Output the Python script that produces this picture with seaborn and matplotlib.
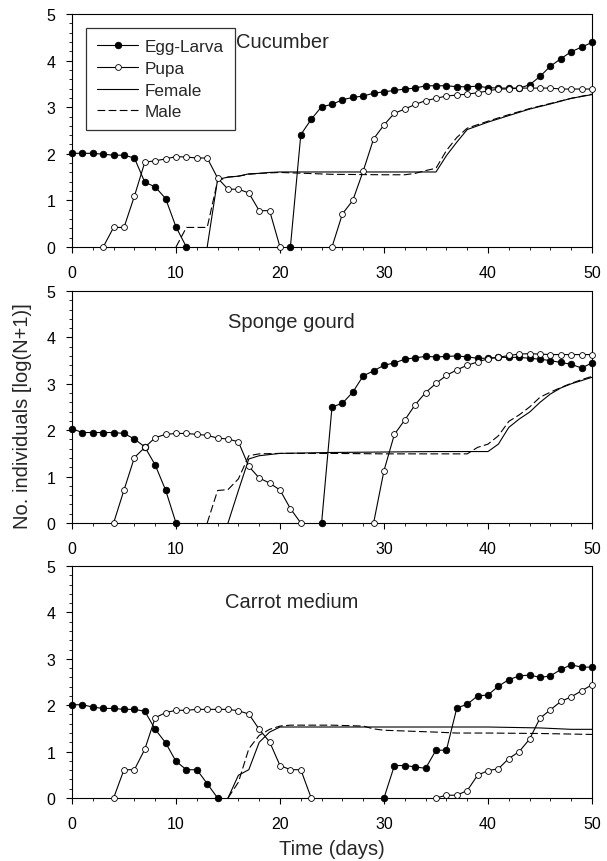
import numpy as np
import pandas as pd
import seaborn as sns
import matplotlib.pyplot as plt
from matplotlib.ticker import MultipleLocator

sns.set_style("ticks")
plt.rcParams['font.family'] = ['Liberation Sans', 'DejaVu Sans']
plt.rcParams['lines.dashed_pattern'] = [7, 3]

# ---- data: log(N+1) per day ----
# Cucumber
cu_egg_days = list(range(0, 12)) + list(range(21, 51))
cu_egg = [2.01, 2.01, 2.01, 1.99, 1.97, 1.97, 1.91, 1.39, 1.29, 1.04, 0.43, 0,
          0, 2.41, 2.74, 3.01, 3.06, 3.16, 3.21, 3.24, 3.30, 3.33, 3.36, 3.39, 3.41,
          3.46, 3.46, 3.46, 3.44, 3.44, 3.45, 3.42, 3.41, 3.41, 3.41, 3.48, 3.66,
          3.88, 4.04, 4.19, 4.29, 4.39]
cu_pupa_days = list(range(3, 21)) + list(range(25, 51))
cu_pupa = [0, 0.42, 0.42, 1.09, 1.82, 1.85, 1.89, 1.94, 1.93, 1.91, 1.91, 1.48,
           1.24, 1.24, 1.16, 0.78, 0.78, 0,
           0, 0.71, 1.00, 1.63, 2.32, 2.62, 2.87, 2.96, 3.06, 3.14, 3.19, 3.24,
           3.26, 3.28, 3.31, 3.35, 3.39, 3.39, 3.41, 3.41, 3.41, 3.41, 3.39, 3.39,
           3.39, 3.39]
cu_fem_days = [13, 14, 15, 16, 17, 18, 19, 20, 25, 30, 35, 36, 37, 38, 40, 42, 44, 46, 48, 50]
cu_fem = [0, 1.45, 1.50, 1.52, 1.57, 1.58, 1.60, 1.61, 1.61, 1.61, 1.61, 1.96,
          2.25, 2.52, 2.68, 2.82, 2.96, 3.07, 3.19, 3.27]
cu_male_days = [10, 11, 12, 13, 14, 15, 16, 17, 18, 20, 25, 30, 32, 33, 34, 35,
                36, 37, 38, 40, 42, 44, 46, 48, 50]
cu_male = [0, 0.42, 0.42, 0.42, 1.42, 1.50, 1.52, 1.56, 1.58, 1.60, 1.56, 1.55,
           1.55, 1.58, 1.64, 1.69, 2.07, 2.35, 2.55, 2.70, 2.84, 2.97, 3.08, 3.19, 3.28]

# Sponge gourd
sg_egg_days = list(range(0, 11)) + list(range(24, 51))
sg_egg = [2.03, 1.95, 1.95, 1.95, 1.95, 1.93, 1.81, 1.64, 1.25, 0.71, 0,
          0, 2.50, 2.58, 2.82, 3.17, 3.28, 3.40, 3.45, 3.53, 3.56, 3.59, 3.58,
          3.59, 3.60, 3.58, 3.55, 3.55, 3.57, 3.57, 3.57, 3.55, 3.53, 3.50, 3.46,
          3.42, 3.34, 3.45]
sg_pupa_days = list(range(4, 23)) + list(range(29, 51))
sg_pupa = [0, 0.71, 1.41, 1.63, 1.84, 1.91, 1.93, 1.93, 1.91, 1.89, 1.83, 1.81,
           1.75, 1.22, 0.97, 0.86, 0.71, 0.31, 0,
           0, 1.13, 1.91, 2.22, 2.55, 2.81, 3.01, 3.18, 3.30, 3.40, 3.47, 3.54,
           3.57, 3.61, 3.64, 3.65, 3.64, 3.63, 3.63, 3.63, 3.63, 3.63]
sg_fem_days = [15, 16, 17, 18, 20, 25, 30, 35, 40, 41, 42, 43, 44, 45, 46, 47, 48, 49, 50]
sg_fem = [0, 0.70, 1.38, 1.45, 1.50, 1.52, 1.53, 1.54, 1.54, 1.70, 2.06, 2.24,
          2.39, 2.60, 2.78, 2.91, 3.00, 3.07, 3.14]
sg_male_days = [13, 14, 15, 16, 17, 18, 20, 25, 30, 35, 38, 39, 40, 41, 42, 43,
                44, 45, 46, 47, 48, 49, 50]
sg_male = [0, 0.70, 0.72, 0.95, 1.45, 1.49, 1.50, 1.50, 1.49, 1.49, 1.49, 1.63,
           1.70, 1.88, 2.19, 2.33, 2.50, 2.71, 2.82, 2.92, 3.01, 3.09, 3.16]

# Carrot medium
cm_egg_days = list(range(0, 15)) + list(range(30, 51))
cm_egg = [2.01, 2.01, 1.96, 1.93, 1.93, 1.91, 1.91, 1.87, 1.48, 1.19, 0.79, 0.61,
          0.61, 0.31, 0,
          0, 0.70, 0.70, 0.67, 0.64, 1.03, 1.03, 1.94, 2.02, 2.20, 2.22, 2.41,
          2.55, 2.63, 2.65, 2.60, 2.63, 2.77, 2.87, 2.82, 2.82]
cm_pupa_days = list(range(4, 24)) + list(range(35, 51))
cm_pupa = [0, 0.61, 0.61, 1.05, 1.73, 1.84, 1.89, 1.89, 1.91, 1.91, 1.91, 1.91,
           1.88, 1.81, 1.48, 1.21, 0.70, 0.61, 0.61, 0,
           0, 0.06, 0.06, 0.16, 0.49, 0.59, 0.63, 0.85, 1.00, 1.27, 1.72, 1.90,
           2.08, 2.18, 2.31, 2.44]
cm_fem_days = [15, 16, 17, 18, 19, 20, 25, 30, 35, 40, 45, 48, 50]
cm_fem = [0, 0.49, 0.61, 1.20, 1.42, 1.53, 1.53, 1.53, 1.53, 1.53, 1.51, 1.48, 1.48]
cm_male_days = [15, 16, 17, 18, 19, 20, 21, 25, 28, 29, 30, 35, 37, 40, 45, 50]
cm_male = [0, 0.34, 1.06, 1.35, 1.48, 1.55, 1.57, 1.57, 1.55, 1.49, 1.46, 1.42,
           1.40, 1.40, 1.39, 1.37]

panels = [
    ("Cucumber", (15.8, 4.4), cu_egg_days, cu_egg, cu_pupa_days, cu_pupa,
     cu_fem_days, cu_fem, cu_male_days, cu_male),
    ("Sponge gourd", (15.0, 4.34), sg_egg_days, sg_egg, sg_pupa_days, sg_pupa,
     sg_fem_days, sg_fem, sg_male_days, sg_male),
    ("Carrot medium", (14.7, 4.24), cm_egg_days, cm_egg, cm_pupa_days, cm_pupa,
     cm_fem_days, cm_fem, cm_male_days, cm_male),
]


def segments(days, vals):
    # split a stage series where days are missing (stage absent)
    df = pd.DataFrame({"day": days, "val": vals})
    df["seg"] = (df["day"].diff() > 1).cumsum()
    return [g for _, g in df.groupby("seg")]


fig = plt.figure(figsize=(6.07, 8.62), dpi=100)
W, H = 607, 862
boxes = [(15, 248), (292, 524), (567, 799)]

egg_kw = dict(color="black", linewidth=0.8, marker="o", markersize=4.7,
              markerfacecolor="black", markeredgecolor="black",
              markeredgewidth=0.6, clip_on=False, zorder=4)
pupa_kw = dict(color="black", linewidth=0.8, marker="o", markersize=4.2,
               markerfacecolor="white", markeredgecolor="black",
               markeredgewidth=0.6, clip_on=False, zorder=4)

for i, (name, tpos, ed, ev, pd_, pv, fd, fv, md, mv) in enumerate(panels):
    top, bot = boxes[i]
    ax = fig.add_axes([72 / W, 1 - bot / H, 520 / W, (bot - top) / H])

    sns.lineplot(x=fd, y=fv, ax=ax, color="black", linewidth=0.8,
                 label="Female", clip_on=False)
    sns.lineplot(x=md, y=mv, ax=ax, color="black", linewidth=0.8,
                 linestyle="--", label="Male", clip_on=False)
    for k, g in enumerate(segments(ed, ev)):
        sns.lineplot(data=g, x="day", y="val", ax=ax,
                     label="Egg-Larva" if k == 0 else None, **egg_kw)
    for k, g in enumerate(segments(pd_, pv)):
        sns.lineplot(data=g, x="day", y="val", ax=ax,
                     label="Pupa" if k == 0 else None, **pupa_kw)

    ax.set_xlim(0, 50)
    ax.set_ylim(0, 5)
    ax.xaxis.set_major_locator(MultipleLocator(10))
    ax.xaxis.set_minor_locator(MultipleLocator(2))
    ax.yaxis.set_major_locator(MultipleLocator(1))
    ax.yaxis.set_minor_locator(MultipleLocator(0.2))
    ax.tick_params(which="major", direction="out", length=4, width=0.8,
                   labelsize=11.5, colors="black")
    ax.tick_params(axis="x", which="major", pad=9)
    ax.tick_params(axis="y", which="major", pad=8)
    ax.tick_params(which="minor", direction="out", length=2.2, width=0.7)
    for sp in ax.spines.values():
        sp.set_visible(True)
        sp.set_linewidth(0.8)
        sp.set_color("black")
    ax.set_xlabel("")
    ax.set_ylabel("")
    ax.text(tpos[0], tpos[1], name, fontsize=14.5, va="center", ha="left")

    if i == 0:
        h, l = ax.get_legend_handles_labels()
        order = [l.index(k) for k in ["Egg-Larva", "Pupa", "Female", "Male"]]
        leg = ax.legend([h[k] for k in order], [l[k] for k in order],
                        loc="upper left", bbox_to_anchor=(0.027, 0.941),
                        borderaxespad=0, fontsize=12.3, frameon=True,
                        fancybox=False, edgecolor="black", handlelength=2.4,
                        handletextpad=0.4, labelspacing=0.4, borderpad=0.65)
        leg.get_frame().set_linewidth(0.9)
    else:
        ax.get_legend().remove()

fig.text(23 / W, 1 - 416 / H, "No. individuals [log(N+1)]", rotation=90,
         ha="center", va="center", fontsize=14.5)
fig.text(332 / W, 1 - 850 / H, "Time (days)", ha="center", va="center",
         fontsize=14.5)

fig.savefig("out.png", dpi=100)
